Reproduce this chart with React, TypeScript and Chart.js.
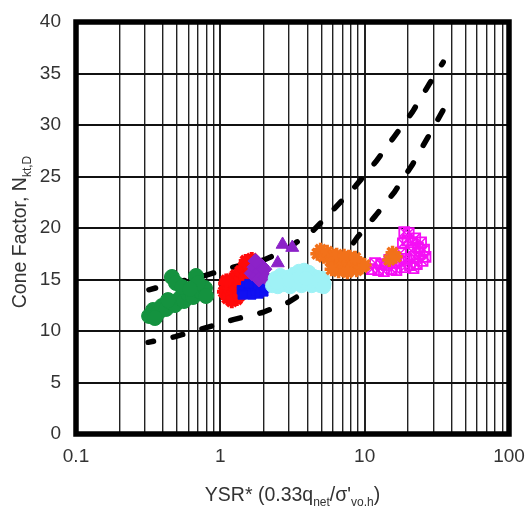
import React, { useEffect, useRef } from 'react';
import { Chart, registerables } from 'chart.js';

Chart.register(...registerables);

// Axis labels
const X_TICK_LABELS = ['0.1', '1', '10', '100'];
const X_MIN = 0.1;
const X_MAX = 100;
const Y_MIN = 0;
const Y_MAX = 40;
const Y_STEP = 5;

// Site data: YSR* vs cone factor
const GREEN_X = [0.321, 0.342, 0.37, 0.394, 0.421, 0.448, 0.485, 0.526, 0.56, 0.597, 0.647, 0.69, 0.747, 0.783, 0.796, 0.462, 0.493, 0.543, 0.679, 0.7, 0.617, 0.352, 0.434];
const GREEN_Y = [11.46, 12.04, 11.75, 12.43, 12.14, 12.82, 12.52, 13.2, 12.91, 13.59, 13.3, 13.98, 13.69, 14.17, 13.4, 15.24, 14.66, 14.27, 15.34, 14.66, 14.08, 11.26, 13.0];

const RED_X = [1.06, 1.08, 1.12, 1.15, 1.18, 1.22, 1.25, 1.28, 1.3, 1.35, 1.38, 1.42, 1.45, 1.5, 1.55, 1.6, 1.65, 1.7, 1.75, 1.2, 1.35, 1.5, 1.1];
const RED_Y = [13.8, 14.6, 13.2, 14.2, 15.0, 13.5, 14.4, 15.4, 13.1, 14.8, 15.8, 14.0, 16.2, 15.2, 16.5, 15.6, 17.0, 16.2, 15.8, 12.9, 13.4, 16.8, 14.9];

const BLUE_X = [1.4, 1.45, 1.5, 1.55, 1.6, 1.65, 1.7, 1.75, 1.8, 1.85, 1.9, 1.95, 2.0, 2.05, 1.58, 1.42];
const BLUE_Y = [14.0, 13.6, 14.4, 13.8, 14.2, 13.5, 14.5, 13.9, 14.3, 13.6, 14.1, 14.5, 13.8, 14.2, 14.6, 13.5];

const PURPLE_X = [1.65, 1.72, 1.78, 1.82, 1.88, 1.93, 1.98, 2.02, 1.75, 1.85, 2.05];
const PURPLE_Y = [15.6, 16.2, 15.3, 16.6, 15.8, 16.3, 15.4, 16.0, 16.8, 15.0, 15.2];

const PURPLE_TRI_X = [2.5, 2.7, 3.15];
const PURPLE_TRI_Y = [16.6, 18.4, 18.1];

const CYAN_X = [2.3, 2.4, 2.5, 2.6, 2.75, 2.9, 3.05, 3.2, 3.35, 3.5, 3.65, 3.8, 3.95, 4.1, 4.3, 4.45, 4.6, 4.75, 4.95, 5.1, 5.24, 3.0, 4.2, 3.55, 3.9, 2.45, 4.8, 5.2];
const CYAN_Y = [14.4, 15.1, 14.3, 15.4, 14.5, 15.2, 14.3, 15.5, 14.6, 15.8, 14.4, 15.9, 14.6, 15.7, 14.4, 15.3, 14.8, 15.2, 14.4, 15.1, 14.6, 14.9, 15.0, 15.2, 15.1, 14.7, 14.8, 14.3];

const ORANGE_X = [4.7, 4.95, 5.2, 5.5, 5.8, 6.1, 6.3, 6.6, 6.9, 7.1, 7.4, 7.7, 7.9, 8.2, 8.5, 8.8, 9.2, 9.6, 10.0, 6.4, 7.2, 14.8, 15.6, 16.4, 5.9, 7.6, 8.6];
const ORANGE_Y = [17.5, 17.9, 17.2, 17.7, 16.8, 17.3, 16.2, 15.8, 16.8, 16.2, 15.9, 16.6, 17.2, 16.1, 16.6, 15.9, 16.6, 16.2, 16.4, 17.4, 17.3, 16.9, 17.6, 17.2, 16.0, 15.7, 17.1];

const MAGENTA_X = [11.2, 11.8, 12.4, 13.0, 13.6, 14.2, 14.8, 15.4, 16.0, 16.6, 17.2, 17.8, 18.4, 18.8, 19.4, 19.8, 20.2, 20.6, 21.0, 21.4, 22.0, 22.4, 23.0, 23.4, 24.0, 24.6, 25.2, 25.8, 26.4, 19.0, 21.8];
const MAGENTA_Y = [16.0, 16.6, 15.9, 16.5, 15.8, 16.4, 16.9, 16.0, 16.6, 15.9, 16.8, 17.6, 18.5, 19.6, 17.0, 18.8, 19.5, 16.4, 17.8, 18.6, 17.2, 19.0, 16.5, 18.1, 17.5, 18.6, 16.8, 17.9, 17.2, 16.2, 16.1];

// Bounding envelopes (dashed), listed from the upper-right end downward
const UPPER_X = [35.0, 27.8, 21.5, 15.9, 11.9, 8.67, 6.19, 4.43, 2.8, 2.0, 1.23, 0.79, 0.49, 0.32];
const UPPER_Y = [36.1, 33.9, 31.3, 28.8, 26.4, 24.1, 21.9, 19.8, 17.8, 16.9, 16.2, 15.4, 14.7, 14.0];
const LOWER_X = [34.8, 27.4, 21.5, 16.1, 11.9, 8.9, 7.0, 5.0, 2.97, 1.96, 1.23, 0.787, 0.487, 0.316];
const LOWER_Y = [31.4, 28.8, 26.2, 23.5, 21.2, 19.1, 17.0, 14.8, 12.8, 11.8, 11.1, 10.3, 9.45, 8.9];

const FONT = "'Liberation Sans', Arial, sans-serif";
const TEXT_COLOR = '#333333';

const pts = (xs: number[], ys: number[]) => xs.map((x, i) => ({ x, y: ys[i] }));

// every 1..9 × 10^n gridline across the log range
const gridValues = (): number[] => {
  const out: number[] = [];
  for (let d = X_MIN; d < X_MAX * 0.999; d *= 10) {
    for (let m = 1; m <= 9; m++) out.push(parseFloat((m * d).toPrecision(6)));
  }
  out.push(X_MAX);
  return out;
};

const labelFor = (v: number): string => {
  const hit = X_TICK_LABELS.find((l) => Math.abs(Math.log10(parseFloat(l)) - Math.log10(v)) < 1e-6);
  return hit ?? '';
};

type Part = { t: string; sub?: boolean };

function drawRich(ctx: CanvasRenderingContext2D, parts: Part[], cx: number, cy: number, size: number, subSize: number) {
  const widths = parts.map((p) => {
    ctx.font = `${p.sub ? subSize : size}px ${FONT}`;
    return ctx.measureText(p.t).width;
  });
  const total = widths.reduce((a, b) => a + b, 0);
  let x = cx - total / 2;
  ctx.textAlign = 'left';
  ctx.textBaseline = 'alphabetic';
  parts.forEach((p, i) => {
    ctx.font = `${p.sub ? subSize : size}px ${FONT}`;
    ctx.fillText(p.t, x, cy + (p.sub ? 5 : 0));
    x += widths[i];
  });
}

const frameAndTitles = {
  id: 'frameAndTitles',
  afterDraw(chart: Chart) {
    const { ctx, chartArea } = chart;
    const { left, right, top, bottom } = chartArea;
    ctx.save();
    ctx.strokeStyle = '#000';
    ctx.lineWidth = 5.5;
    ctx.lineJoin = 'miter';
    ctx.strokeRect(left, top, right - left, bottom - top);

    ctx.fillStyle = TEXT_COLOR;
    drawRich(
      ctx,
      [{ t: 'YSR* (0.33q' }, { t: 'net', sub: true }, { t: '/σ\'' }, { t: 'vo,h', sub: true }, { t: ')' }],
      (left + right) / 2,
      501,
      19.5,
      12,
    );

    ctx.translate(26, 232);
    ctx.rotate(-Math.PI / 2);
    drawRich(ctx, [{ t: 'Cone Factor, N' }, { t: 'kt,D', sub: true }], 0, 0, 19.5, 12);
    ctx.restore();
  },
};

export default function App() {
  const ref = useRef<HTMLCanvasElement | null>(null);

  useEffect(() => {
    if (!ref.current) return;
    const scatter = (
      label: string,
      xs: number[],
      ys: number[],
      color: string,
      style: any,
      radius: number,
      order: number,
      filled = true,
      borderWidth = 1,
    ) => ({
      type: 'scatter' as const,
      label,
      data: pts(xs, ys),
      pointStyle: style,
      pointRadius: radius,
      pointBackgroundColor: filled ? color : 'rgba(0,0,0,0)',
      pointBorderColor: color,
      pointBorderWidth: borderWidth,
      order,
    });

    const envelope = (label: string, xs: number[], ys: number[], offset: number) => ({
      type: 'line' as const,
      label,
      data: pts(xs, ys),
      borderColor: '#000',
      borderWidth: 5.5,
      borderDash: [10, 20],
      borderDashOffset: offset,
      borderCapStyle: 'round' as const,
      borderJoinStyle: 'round' as const,
      pointRadius: 0,
      fill: false,
      tension: 0,
      order: 100,
    });

    const chart = new Chart(ref.current, {
      type: 'scatter',
      data: {
        datasets: [
          scatter('Orange', ORANGE_X, ORANGE_Y, '#F2711A', 'star', 7, 3, true, 3.5),
          scatter('Magenta', MAGENTA_X, MAGENTA_Y, '#F50FF5', 'rect', 7, 4, false, 1.8),
          scatter('Magenta X', MAGENTA_X, MAGENTA_Y, '#F50FF5', 'crossRot', 7, 4, false, 1.5),
          scatter('Cyan', CYAN_X, CYAN_Y, '#9FF2F6', 'circle', 7, 5),
          scatter('Purple', PURPLE_X, PURPLE_Y, '#8C22C8', 'rectRot', 7.5, 6),
          scatter('Purple triangles', PURPLE_TRI_X, PURPLE_TRI_Y, '#8C22C8', 'triangle', 7.5, 6),
          scatter('Blue', BLUE_X, BLUE_Y, '#1010F2', 'rect', 6, 7),
          scatter('Red', RED_X, RED_Y, '#FF0A0A', 'star', 7, 8, true, 4),
          scatter('Green', GREEN_X, GREEN_Y, '#14923F', 'circle', 7.5, 9),
          envelope('Upper bound', UPPER_X, UPPER_Y, 7),
          envelope('Lower bound', LOWER_X, LOWER_Y, 0),
        ] as any,
      },
      options: {
        responsive: false,
        animation: false,
        events: [],
        layout: { padding: { top: 22, right: 19, left: 0, bottom: 0 } },
        plugins: {
          legend: { display: false },
          tooltip: { enabled: false },
          title: { display: false },
        },
        scales: {
          x: {
            type: 'logarithmic',
            min: X_MIN,
            max: X_MAX,
            border: { display: false },
            grid: {
              drawTicks: false,
              color: '#222',
              lineWidth: (c: any) => (labelFor(c.tick?.value ?? 0) ? 2 : 1.4),
            },
            afterBuildTicks: (scale: any) => {
              scale.ticks = gridValues().map((v) => ({ value: v, major: labelFor(v) !== '' }));
            },
            afterFit: (scale: any) => {
              scale.height = 72;
              scale.paddingLeft = 0;
              scale.paddingRight = 0;
            },
            ticks: {
              autoSkip: false,
              maxRotation: 0,
              padding: 11,
              color: TEXT_COLOR,
              font: { family: FONT, size: 19 },
              callback: (v: any) => labelFor(Number(v)),
            },
          },
          y: {
            type: 'linear',
            min: Y_MIN,
            max: Y_MAX,
            border: { display: false },
            grid: { drawTicks: false, color: '#111', lineWidth: 2 },
            afterFit: (scale: any) => {
              scale.width = 76;
              scale.paddingTop = 0;
              scale.paddingBottom = 0;
            },
            ticks: {
              stepSize: Y_STEP,
              padding: 15,
              color: TEXT_COLOR,
              font: { family: FONT, size: 19 },
            },
          },
        },
      },
      plugins: [frameAndTitles],
    });
    return () => chart.destroy();
  }, []);

  return (
    <div style={{ position: 'absolute', left: 0, top: 0, width: 528, height: 506, background: '#fff' }}>
      <canvas ref={ref} width={528} height={506} style={{ display: 'block' }} />
    </div>
  );
}
